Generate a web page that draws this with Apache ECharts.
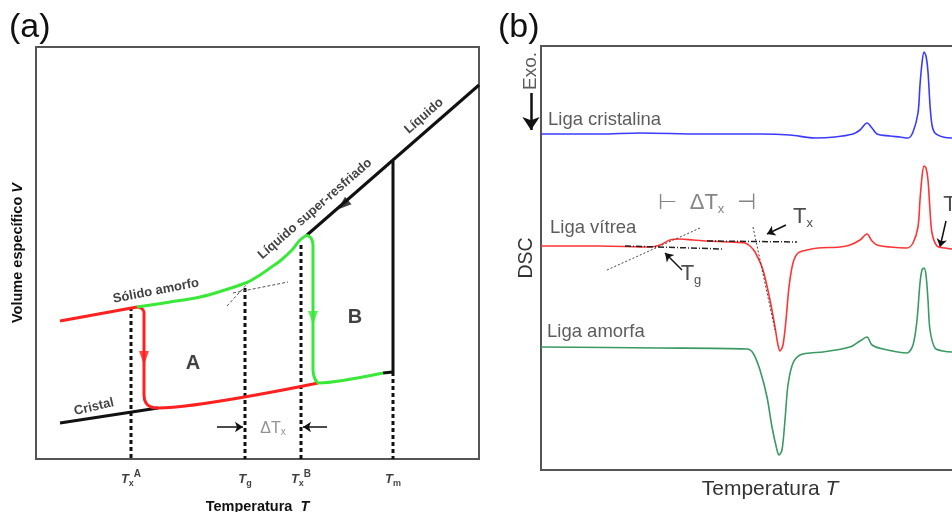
<!DOCTYPE html>
<html>
<head>
<meta charset="utf-8">
<title>Volume específico e DSC</title>
<script src="https://cdn.jsdelivr.net/npm/echarts@6/dist/echarts.min.js"></script>
</head>
<body style="margin:0;background:#fff">
<div id="chart" style="width:952px;height:512px;"></div>
<script>
var F = 'Liberation Sans, Arial, sans-serif';

// ---------- (a) volume específico x temperatura (unidades arbitrárias)
var liquido = [[271, 224], [443, 374]];
var tmLinha = [[357, 298], [357, 87]];
var vidroVerde = [[271, 224], [264, 219], [256, 209], [244, 198], [234, 191], [224, 184],
  [214, 178], [204, 174], [189, 169], [164, 162], [134, 157], [101, 152]];
var vidroVermelho = [[101, 152], [24, 138]];
var caminhoA = [[101, 152], [105, 151], [108, 147], [108, 64], [110, 56], [115, 52], [122, 51], [282, 76]];
var caminhoB = [[271, 224], [275, 221], [277, 214], [277, 89], [279, 80], [283, 76], [347, 86]];
var cristalFim = [[347, 86], [357, 87]];
var cristal = [[24, 36], [122, 51]];
var tangentesA = [[[191, 153], [212, 176]], [[197, 166], [252, 177]]];

var ticksX = [95, 209, 265, 357];
var ticksTopo = [152, 171, 214, 87];
var ticksTexto = ['{t|T}{s|x}{p|A}', '{t|T}{s|g}', '{t|T}{s|x}{p|B}', '{t|T}{s|m}'];

var notasA = [
  ['Sólido amorfo', 120, 168, 11],
  ['Cristal', 58, 52, 13],
  ['Líquido super-resfriado', 279, 250, 41],
  ['Líquido', 388, 343, 41]
];
var letrasA = [['A', 157, 96], ['B', 319, 142]];

// ---------- (b) curvas DSC
var cristalina = [[0, 336], [59, 336], [99, 337], [159, 336], [219, 336], [249, 335], [274, 332],
  [294, 333], [312, 336], [319, 340], [326, 347], [331, 342], [336, 336], [349, 334], [359, 333],
  [367, 332], [372, 338], [377, 357], [379, 385], [381, 407], [383, 418], [385, 414], [387, 398],
  [389, 365], [391, 345], [394, 337], [402, 333], [411, 332], [424, 332]];
var vitrea = [[0, 224], [59, 224], [109, 223], [119, 225], [129, 230], [139, 231], [152, 230],
  [166, 229], [189, 228], [204, 227], [209, 224], [214, 218], [222, 200], [229, 170], [234, 143],
  [237, 125], [239, 119], [242, 125], [245, 150], [248, 183], [252, 207], [257, 217], [266, 220],
  [277, 222], [299, 223], [309, 225], [319, 230], [326, 236], [331, 229], [336, 225], [349, 223],
  [366, 222], [372, 227], [377, 243], [379, 270], [381, 293], [383, 304], [385, 302], [387, 290],
  [389, 260], [391, 237], [396, 224], [404, 222], [411, 221], [424, 221]];
var amorfa = [[0, 123], [116, 122], [206, 121], [212, 117], [219, 100], [226, 73], [231, 43],
  [236, 20], [238, 15], [241, 20], [244, 50], [247, 85], [252, 107], [259, 115], [269, 117],
  [282, 118], [309, 123], [319, 129], [326, 133], [331, 125], [342, 121], [366, 117], [372, 125],
  [376, 150], [379, 187], [381, 200], [383, 202], [385, 195], [387, 170], [389, 140], [394, 122],
  [402, 119], [411, 118], [424, 118]];

var tangenteTg = [[66, 200], [159, 242]];
var baseTg = [[84, 224], [182, 221]];
var baseTx = [[166, 229], [256, 228]];
var tangenteTx = [[212, 243], [234, 140]];
var setasB = [[[245, 245], [226, 236]], [[141, 200], [124, 217]], [[405, 249], [399, 223]]];
var setaExo = [[-10, 377], [-10, 340]];

var notasB = [
  ['Liga cristalina', 7, 350],
  ['Liga vítrea', 9, 242],
  ['Liga amorfa', 6, 138]
];

function linha(ix, data, cor, larg, tipo, suave) {
  return {
    type: 'line', xAxisIndex: ix, yAxisIndex: ix, data: data, symbol: 'none',
    smooth: suave || false, silent: true,
    lineStyle: { color: cor, width: larg, type: tipo || 'solid' }
  };
}

function setas(ix, pares, cor, larg, tam) {
  return {
    type: 'lines', coordinateSystem: 'cartesian2d', xAxisIndex: ix, yAxisIndex: ix,
    symbol: ['none', 'arrow'], symbolSize: tam, silent: true,
    lineStyle: { color: cor, width: larg, opacity: 1, curveness: 0 },
    data: pares.map(function (p) { return { coords: p }; })
  };
}

function textos(ix, itens, estilo, rich) {
  return {
    type: 'scatter', xAxisIndex: ix, yAxisIndex: ix, symbolSize: 1, clip: false, silent: true,
    itemStyle: { color: 'rgba(0,0,0,0)' },
    label: Object.assign({
      show: true, position: 'inside', fontFamily: F, color: '#111',
      formatter: function (p) { return p.data.txt; }, rich: rich || {}
    }, estilo),
    data: itens
  };
}

var richA = {
  t: { fontSize: 13, fontWeight: 'bold', fontStyle: 'italic', lineHeight: 19, fontFamily: F, color: '#111' },
  s: { fontSize: 9, fontWeight: 'bold', lineHeight: 9, verticalAlign: 'bottom', fontFamily: F, color: '#111' },
  p: { fontSize: 10, fontWeight: 'bold', lineHeight: 10, verticalAlign: 'top', fontFamily: F, color: '#111' }
};
var richB = {
  t: { fontSize: 22, lineHeight: 26, fontFamily: F, color: '#222' },
  g: { fontSize: 22, lineHeight: 26, fontFamily: F, color: '#666' },
  s: { fontSize: 13, lineHeight: 13, verticalAlign: 'bottom', fontFamily: F, color: '#222' },
  sg: { fontSize: 13, lineHeight: 13, verticalAlign: 'bottom', fontFamily: F, color: '#666' }
};

var series = [];
// painel (a)
series.push(linha(0, liquido, '#111', 3));
series.push(linha(0, tmLinha, '#111', 3));
ticksX.forEach(function (x, i) {
  series.push(linha(0, [[x, ticksTopo[i]], [x, 0]], '#111', 3, [4, 3]));
});
tangentesA.forEach(function (t) { series.push(linha(0, t, '#555', 1, [3, 2])); });
series.push(linha(0, cristal, '#111', 3));
series.push(linha(0, cristalFim, '#111', 3));
series.push(linha(0, vidroVermelho, '#ff2020', 3));
series.push(linha(0, caminhoA, '#ff2020', 3, 'solid', 0.25));
series.push(linha(0, caminhoB, '#3ae83a', 3, 'solid', 0.25));
series.push(linha(0, vidroVerde, '#3ae83a', 3, 'solid', 0.4));
series.push(setas(0, [[[181, 32], [207, 32]], [[291, 32], [267, 32]]], '#111', 1.5, 8));
series.push({
  type: 'scatter', xAxisIndex: 0, yAxisIndex: 0, symbol: 'triangle', silent: true,
  data: [
    { value: [108, 101], symbolRotate: 180, itemStyle: { color: '#ff2020' } },
    { value: [277, 141], symbolRotate: 180, itemStyle: { color: '#3ae83a' } },
    { value: [307, 254], symbolRotate: 131, itemStyle: { color: '#111' } }
  ],
  symbolSize: [10, 14]
});
series.push(textos(0, notasA.map(function (n) {
  return { value: [n[1], n[2]], txt: n[0], label: { rotate: n[3] } };
}), { fontSize: 13, fontWeight: 'bold' }));
series.push(textos(0, letrasA.map(function (n) {
  return { value: [n[1], n[2]], txt: n[0] };
}), { fontSize: 20, fontWeight: 'bold' }));
series.push(textos(0, [{ value: [237, 30], txt: 'ΔT{s|x}' }],
  { fontSize: 16, color: '#777' },
  { s: { fontSize: 10, lineHeight: 10, verticalAlign: 'bottom', color: '#777', fontFamily: F } }));
series.push(textos(0, ticksX.map(function (x, i) {
  return { value: [x, -20], txt: ticksTexto[i] };
}), { fontSize: 13 }, richA));

// painel (b)
series.push(linha(1, cristalina, '#3b3bff', 1.6, 'solid', 0.3));
series.push(linha(1, vitrea, '#ff3535', 1.6, 'solid', 0.3));
series.push(linha(1, amorfa, '#3a9a62', 1.6, 'solid', 0.3));
series.push(linha(1, tangenteTg, '#444', 1, [2, 2]));
series.push(linha(1, baseTg, '#222', 1.5, [6, 2, 1, 2]));
series.push(linha(1, baseTx, '#222', 1.5, [6, 2, 1, 2]));
series.push(linha(1, tangenteTx, '#444', 1, [2, 2]));
series.push(setas(1, setasB, '#111', 1.5, 8));
series.push(Object.assign(setas(1, [setaExo], '#111', 2.5, 13), { clip: false }));
series.push(textos(1, notasB.map(function (n) {
  return { value: [n[1], n[2]], txt: n[0] };
}), { fontSize: 18.5, color: '#333', align: 'left' }));
series.push(textos(1, [
  { value: [166, 267], txt: '{g|⊢  ΔT}{sg|x}{g|  ⊣}' },
  { value: [262, 253], txt: '{t|T}{s|x}' },
  { value: [150, 196], txt: '{t|T}{s|g}' },
  { value: [409, 265], txt: '{t|T}' }
], { fontSize: 22 }, richB));
series.push(textos(1, [{ value: [-10, 399], txt: 'Exo.', label: { rotate: 90 } }],
  { fontSize: 19, color: '#333' }));

var eixoOculto = {
  axisLine: { show: false }, axisTick: { show: false }, axisLabel: { show: false },
  splitLine: { show: false }
};

var chart = echarts.init(document.getElementById('chart'));
chart.setOption({
  animation: false,
  backgroundColor: '#fff',
  title: [
    { text: '(a)', left: 4, top: 6, textStyle: { fontSize: 34, fontWeight: 'normal', color: '#111', fontFamily: F } },
    { text: '(b)', left: 493, top: 6, textStyle: { fontSize: 34, fontWeight: 'normal', color: '#111', fontFamily: F } }
  ],
  grid: [
    { left: 36, top: 47, width: 443, height: 412, show: true, borderColor: '#555', borderWidth: 2,
      backgroundColor: 'transparent', outerBoundsMode: 'none' },
    { left: 541, top: 46, width: 458, height: 424, show: true, borderColor: '#555', borderWidth: 2,
      backgroundColor: 'transparent', outerBoundsMode: 'none' }
  ],
  xAxis: [
    Object.assign({
      type: 'value', gridIndex: 0, min: 0, max: 443,
      name: 'Temperatura  {i|T}', nameLocation: 'middle', nameGap: 40,
      nameTextStyle: { fontSize: 14.5, fontWeight: 'bold', color: '#111', fontFamily: F,
        rich: { i: { fontSize: 14.5, fontWeight: 'bold', fontStyle: 'italic', color: '#111', fontFamily: F } } }
    }, eixoOculto),
    Object.assign({
      type: 'value', gridIndex: 1, min: 0, max: 458,
      name: 'Temperatura {i|T}', nameLocation: 'middle', nameGap: 9,
      nameTextStyle: { fontSize: 21, color: '#333', fontFamily: F,
        rich: { i: { fontSize: 21, fontStyle: 'italic', color: '#333', fontFamily: F } } }
    }, eixoOculto)
  ],
  yAxis: [
    Object.assign({
      type: 'value', gridIndex: 0, min: 0, max: 412,
      name: 'Volume específico {i|V}', nameLocation: 'middle', nameGap: 11,
      nameTextStyle: { fontSize: 14.5, fontWeight: 'bold', color: '#111', fontFamily: F,
        rich: { i: { fontSize: 14.5, fontWeight: 'bold', fontStyle: 'italic', color: '#111', fontFamily: F } } }
    }, eixoOculto),
    Object.assign({
      type: 'value', gridIndex: 1, min: 0, max: 424,
      name: 'DSC', nameLocation: 'middle', nameGap: 4,
      nameTextStyle: { fontSize: 19.5, color: '#333', fontFamily: F }
    }, eixoOculto)
  ],
  series: series
});
</script>
</body>
</html>
